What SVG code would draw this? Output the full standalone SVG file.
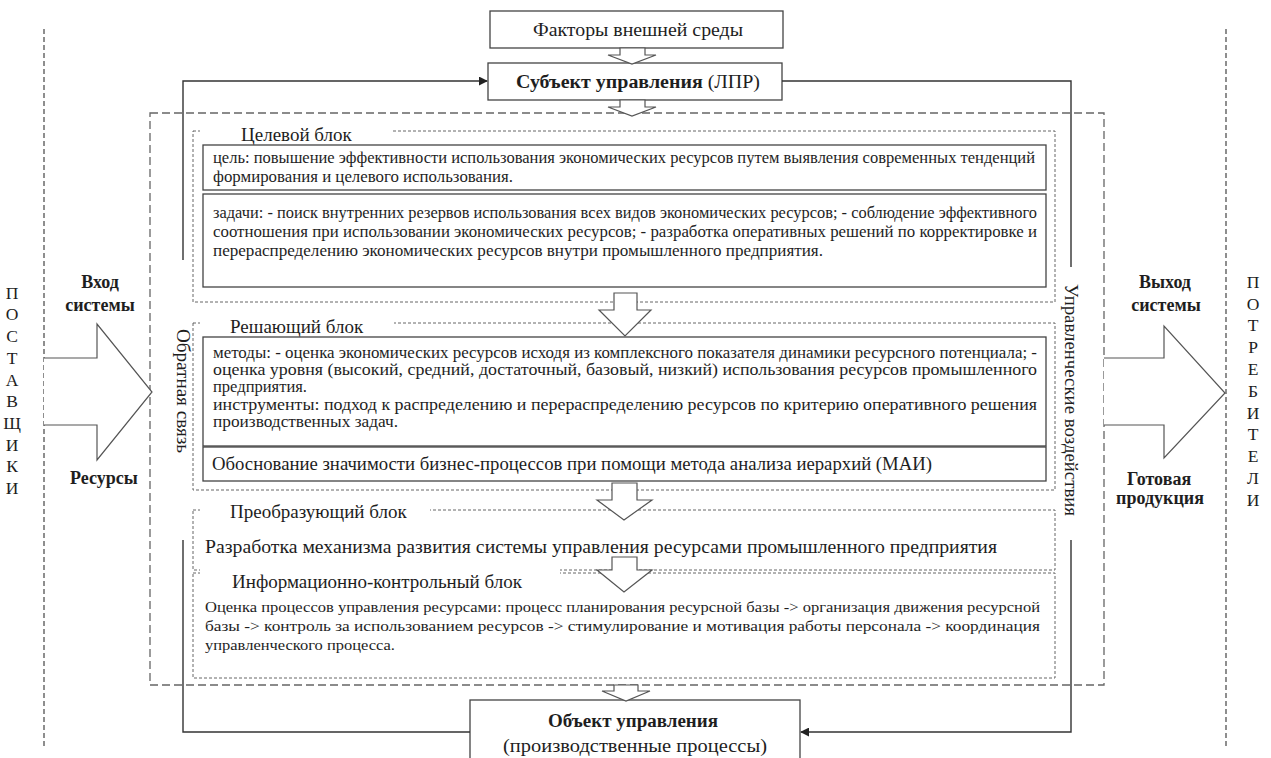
<svg xmlns="http://www.w3.org/2000/svg" width="1271" height="758" viewBox="0 0 1271 758" font-family="'Liberation Serif','Times New Roman',serif">
<defs>
<style>
text{font-family:"Liberation Serif","Times New Roman",serif;fill:#1e1e1e}
.b{font-weight:bold}
.box{fill:#fff;stroke:#444;stroke-width:1.3}
.outer{fill:none;stroke:#666;stroke-width:1.3;stroke-dasharray:8 4}
.inner{fill:none;stroke:#666;stroke-width:1;stroke-dasharray:3 2}
.side{fill:none;stroke:#444;stroke-width:1.2;stroke-dasharray:5 3}
.ln{fill:none;stroke:#333;stroke-width:1.4}
.harrow{fill:#fff;stroke:#555;stroke-width:1.2}
.s15{font-size:15.5px}
.s16{font-size:16px}
.s17{font-size:17.5px}
.s18{font-size:18px}
.s19{font-size:19px}
</style>
<marker id="ah" viewBox="0 0 10 10" refX="9" refY="5" markerWidth="9" markerHeight="9" markerUnits="userSpaceOnUse" orient="auto">
<path d="M0,0 L10,5 L0,10 z" fill="#222"/>
</marker>
</defs>
<rect width="1271" height="758" fill="#fff"/>

<!-- side dashed separators -->
<line class="side" x1="44" y1="29" x2="44" y2="746"/>
<line class="side" x1="1226" y1="29" x2="1226" y2="746"/>

<!-- outer system box -->
<rect id="system-boundary" class="outer" x="150" y="113" width="954" height="572"/>

<!-- suppliers -->
<g id="suppliers" class="s17" text-anchor="middle">
<text x="12" y="299">П</text><text x="12" y="320">О</text><text x="12" y="342">С</text><text x="12" y="364">Т</text><text x="12" y="386">А</text><text x="12" y="407">В</text><text x="12" y="429">Щ</text><text x="12" y="451">И</text><text x="12" y="472">К</text><text x="12" y="494">И</text>
</g>
<!-- consumers -->
<g id="consumers" class="s17" text-anchor="middle">
<text x="1253" y="288">П</text><text x="1253" y="310">О</text><text x="1253" y="331">Т</text><text x="1253" y="353">Р</text><text x="1253" y="375">Е</text><text x="1253" y="397">Б</text><text x="1253" y="419">И</text><text x="1253" y="440">Т</text><text x="1253" y="462">Е</text><text x="1253" y="484">Л</text><text x="1253" y="506">И</text>
</g>

<!-- input -->
<g id="input">
<text class="b s18" x="100" y="288" text-anchor="middle">Вход</text>
<text class="b s18" x="100" y="311" text-anchor="middle">системы</text>
<path class="harrow" d="M44,358 L97,358 L97,324 L152,392 L97,460 L97,425 L44,425"/>
<text class="b s18" x="104" y="484" text-anchor="middle">Ресурсы</text>
</g>
<!-- output -->
<g id="output">
<text class="b s18" x="1165" y="288" text-anchor="middle">Выход</text>
<text class="b s18" x="1166" y="311" text-anchor="middle">системы</text>
<path class="harrow" d="M1104,358 L1164,358 L1164,326 L1225,393 L1164,458 L1164,425 L1104,425"/>
<text class="b s18" x="1159" y="485" text-anchor="middle">Готовая</text>
<text class="b s18" x="1160" y="504" text-anchor="middle">продукция</text>
</g>

<!-- external factors -->
<g id="factors">
<rect class="box" x="490" y="11" width="293" height="37"/>
<text class="s18" x="533" y="36" textLength="210" lengthAdjust="spacingAndGlyphs">Факторы внешней среды</text>
</g>
<!-- subject -->
<g id="subject">
<rect class="box" x="488" y="63" width="294" height="37"/>
<text class="s18" x="516" y="88" textLength="244" lengthAdjust="spacingAndGlyphs"><tspan class="b">Субъект управления</tspan> (ЛПР)</text>
</g>

<!-- target block -->
<g id="target-block">
<rect class="inner" x="193" y="131" width="862" height="171"/>
<rect x="200" y="124" width="192" height="14" fill="#fff"/>
<text class="s19" x="241" y="141">Целевой блок</text>
<rect class="box" x="203" y="145" width="843" height="45"/>
<text class="s16" x="213" y="163" textLength="822" lengthAdjust="spacingAndGlyphs">цель: повышение эффективности использования экономических ресурсов путем выявления современных тенденций</text>
<text class="s16" x="213" y="182" textLength="300" lengthAdjust="spacingAndGlyphs">формирования и целевого использования.</text>
<rect class="box" x="203" y="194" width="843" height="93"/>
<text class="s16" x="213" y="218" textLength="824" lengthAdjust="spacingAndGlyphs">задачи: - поиск внутренних резервов использования всех видов экономических ресурсов; - соблюдение эффективного</text>
<text class="s16" x="213" y="237" textLength="824" lengthAdjust="spacingAndGlyphs">соотношения при использовании экономических ресурсов; - разработка оперативных решений по корректировке и</text>
<text class="s16" x="213" y="256" textLength="610" lengthAdjust="spacingAndGlyphs">перераспределению экономических ресурсов внутри промышленного предприятия.</text>
</g>

<!-- decision block -->
<g id="decision-block">
<rect class="inner" x="193" y="323" width="862" height="167"/>
<rect x="200" y="316" width="194" height="14" fill="#fff"/>
<text class="s19" x="230" y="333">Решающий блок</text>
<rect class="box" x="203" y="337" width="843" height="109"/>
<text class="s16" x="213" y="358" textLength="824" lengthAdjust="spacingAndGlyphs">методы: - оценка экономических ресурсов исходя из комплексного показателя динамики ресурсного потенциала; -</text>
<text class="s16" x="213" y="375" textLength="824" lengthAdjust="spacingAndGlyphs">оценка уровня (высокий, средний, достаточный, базовый, низкий) использования ресурсов промышленного</text>
<text class="s16" x="213" y="392" textLength="94" lengthAdjust="spacingAndGlyphs">предприятия.</text>
<text class="s16" x="213" y="410" textLength="824" lengthAdjust="spacingAndGlyphs">инструменты: подход к распределению и перераспределению ресурсов по критерию оперативного решения</text>
<text class="s16" x="213" y="427" textLength="185" lengthAdjust="spacingAndGlyphs">производственных задач.</text>
<rect class="box" x="203" y="447" width="843" height="34"/>
<text class="s18" x="212" y="470" textLength="720" lengthAdjust="spacingAndGlyphs">Обоснование значимости бизнес-процессов при помощи метода анализа иерархий (МАИ)</text>
</g>

<!-- transforming block -->
<g id="transform-block">
<rect class="inner" x="193" y="510" width="862" height="60"/>
<rect x="200" y="503" width="230" height="14" fill="#fff"/>
<text class="s19" x="230" y="518">Преобразующий блок</text>
<text class="s18" x="205" y="553" textLength="792" lengthAdjust="spacingAndGlyphs">Разработка механизма развития системы управления ресурсами промышленного предприятия</text>
</g>

<!-- info-control block -->
<g id="info-block">
<rect class="inner" x="193" y="573" width="862" height="105"/>
<rect x="200" y="566" width="360" height="14" fill="#fff"/>
<text class="s19" x="232" y="588">Информационно-контрольный блок</text>
<text class="s15" x="205" y="612" textLength="835" lengthAdjust="spacingAndGlyphs">Оценка процессов управления ресурсами: процесс планирования ресурсной базы -&gt; организация движения ресурсной</text>
<text class="s15" x="205" y="631" textLength="835" lengthAdjust="spacingAndGlyphs">базы -&gt; контроль за использованием ресурсов -&gt; стимулирование и мотивация работы персонала -&gt; координация</text>
<text class="s15" x="205" y="650" textLength="190" lengthAdjust="spacingAndGlyphs">управленческого процесса.</text>
</g>

<!-- object -->
<g id="object">
<rect class="box" x="470" y="700" width="330" height="70"/>
<text class="b s18" x="548" y="727" textLength="170" lengthAdjust="spacingAndGlyphs">Объект управления</text>
<text class="s18" x="503" y="752" textLength="264" lengthAdjust="spacingAndGlyphs">(производственные процессы)</text>
</g>

<!-- connectors -->
<g id="connectors">
<path class="harrow" d="M620,48 L645,48 L645,55 L656,55 L632,64 L608,55 L620,55 z"/>
<path class="harrow" d="M620,100 L645,100 L645,107 L656,107 L632,116 L608,107 L620,107 z"/>
<path class="harrow" d="M614,293 L637,293 L637,310 L651,310 L625,336 L599,310 L614,310 z"/>
<path class="harrow" d="M612,483 L637,483 L637,500 L652,500 L624,520 L597,500 L612,500 z"/>
<path class="harrow" d="M612,557 L637,557 L637,570 L652,570 L624,592 L597,570 L612,570 z"/>
<path class="harrow" d="M614,685 L638,685 L638,691 L650,691 L626,701 L602,691 L614,691 z"/>
<path class="ln" d="M183,260 L183,81 L487,81" marker-end="url(#ah)"/>
<path class="ln" d="M183,540 L183,732 L470,732"/>
<path class="ln" d="M782,81 L1071,81 L1071,267"/>
<path class="ln" d="M1071,540 L1071,732 L801,732" marker-end="url(#ah)"/>
<text class="s18" transform="translate(183,391) rotate(90)" text-anchor="middle" dominant-baseline="central" textLength="124" lengthAdjust="spacingAndGlyphs">Обратная связь</text>
<text class="s18" transform="translate(1071,400) rotate(90)" text-anchor="middle" dominant-baseline="central" textLength="232" lengthAdjust="spacingAndGlyphs">Управленческие воздействия</text>
</g>
</svg>
